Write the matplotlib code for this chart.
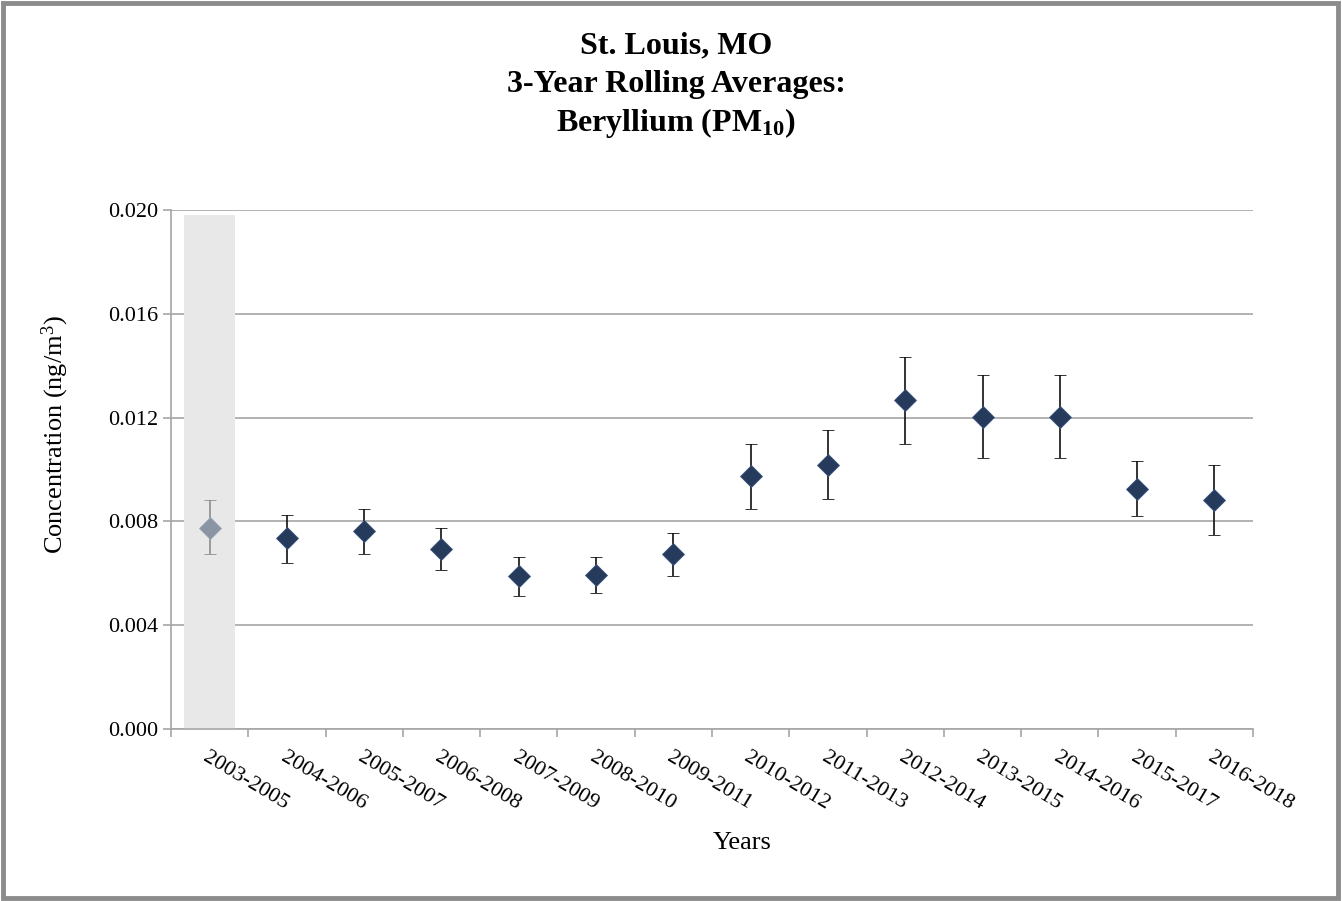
import numpy as np
import matplotlib.pyplot as plt
from matplotlib.patches import Rectangle

plt.rcParams['font.family'] = ['Liberation Serif', 'DejaVu Serif']
plt.rcParams['mathtext.fontset'] = 'custom'
plt.rcParams['mathtext.rm'] = 'Liberation Serif'
plt.rcParams['mathtext.bf'] = 'Liberation Serif:bold'
plt.rcParams['mathtext.default'] = 'rm'

periods = ['2003-2005', '2004-2006', '2005-2007', '2006-2008', '2007-2009',
           '2008-2010', '2009-2011', '2010-2012', '2011-2013', '2012-2014',
           '2013-2015', '2014-2016', '2015-2017', '2016-2018']
avg = [0.00776, 0.00735, 0.00763, 0.00695, 0.00590, 0.00595, 0.00674,
       0.00975, 0.01019, 0.01268, 0.01202, 0.01202, 0.00925, 0.00882]
upper = [0.00882, 0.00823, 0.00849, 0.00775, 0.00664, 0.00664, 0.00757,
         0.01098, 0.01153, 0.01434, 0.01364, 0.01364, 0.01034, 0.01019]
lower = [0.00675, 0.00640, 0.00674, 0.00614, 0.00514, 0.00525, 0.00590,
         0.00849, 0.00888, 0.01098, 0.01044, 0.01044, 0.00820, 0.00749]
shaded = [0]          # index of the greyed-out period
shade_top = 0.0198
title_lines = ['St. Louis, MO', '3-Year Rolling Averages:',
               r'Beryllium (PM$_{\mathbf{10}}$)']

x = np.arange(len(periods))
avg = np.array(avg)
err = [avg - np.array(lower), np.array(upper) - avg]

fig = plt.figure(figsize=(13.42, 9.01), dpi=100)
ax = fig.add_axes([0.1274, 0.1909, 0.8063, 0.576])

ax.bar(shaded, shade_top, width=0.66, color='#e8e8e8', zorder=1)

for i in x:
    gray = i in shaded
    ax.errorbar(i, avg[i], yerr=[[err[0][i]], [err[1][i]]], fmt='D',
                ms=11, mfc='#8a94a3' if gray else '#263a5c',
                mec='#9aa6b8' if gray else '#3d5680', mew=0.6,
                ecolor='#8c8c8c' if gray else '#111111', elinewidth=1.2,
                capsize=4.5, capthick=1.2, zorder=3)

ax.set_xlim(-0.5, len(periods) - 0.5)
ax.set_ylim(0, 0.020)
ax.set_yticks(np.arange(0, 0.0201, 0.004))
ax.set_yticklabels(['%.3f' % v for v in np.arange(0, 0.0201, 0.004)])
ax.yaxis.grid(True, color='#a6a6a6', lw=1.2)
ax.set_axisbelow(True)

ax.set_xticks(x)
ax.set_xticklabels(periods, rotation=-31, ha='left', va='top',
                   rotation_mode='anchor')
ax.set_xticks(np.arange(-0.5, len(periods)), minor=True)
ax.tick_params(axis='x', which='major', length=0, pad=14, labelsize=16)
ax.tick_params(axis='x', which='minor', length=6, color='#a6a6a6', width=1.2)
ax.tick_params(axis='y', length=6, color='#a6a6a6', width=1.2, labelsize=16, pad=3)

for s in ['top', 'right']:
    ax.spines[s].set_visible(False)
for s in ['left', 'bottom']:
    ax.spines[s].set_color('#a6a6a6')
    ax.spines[s].set_linewidth(1.2)

ax.set_ylabel('Concentration (ng/m$^{3}$)', fontsize=19)
ax.yaxis.set_label_coords(-0.0926, 0.568)

for line, base in zip(title_lines, [53, 92, 131]):
    fig.text(0.504, 1 - base / 901, line, ha='center', va='baseline',
             fontsize=23, fontweight='bold')
fig.text(742 / 1342, 1 - 843 / 901, 'Years', ha='center', va='center', fontsize=19)

fig.patches.append(Rectangle((0.002, 0.003), 0.995, 0.994, transform=fig.transFigure,
                             fill=False, edgecolor='#8c8c8c', lw=3.5))

fig.savefig('out.png', dpi=100)
